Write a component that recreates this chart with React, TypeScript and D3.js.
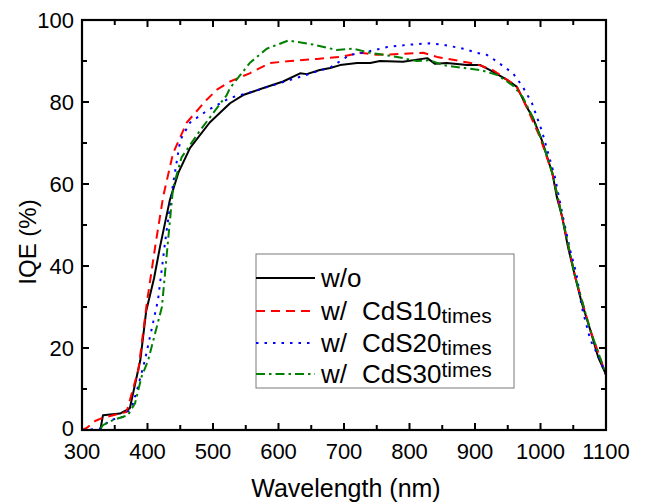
import React from "react";
import * as d3 from "d3";

// wavelength (nm) / IQE (%)
const woX = [300, 328, 332, 358, 373, 389, 398, 410, 419, 434, 447, 465, 495, 526, 546, 577, 607, 633, 643, 663, 679, 694, 720, 740, 755, 790, 827, 839, 857, 888, 908, 923, 949, 964, 979, 988, 1002, 1018, 1025, 1033, 1042, 1053, 1063, 1076, 1088, 1100];
const woY = [0, 0, 3.6, 4, 5.3, 17, 29, 37, 44.6, 56, 62.7, 68.8, 75, 79.7, 81.7, 83.4, 85, 87, 86.8, 87.8, 88.3, 89, 89.5, 89.5, 90, 89.8, 90.7, 89.3, 89.5, 89, 89, 87.8, 85.4, 83.7, 78.8, 76.3, 70.7, 62.7, 56.8, 52, 44.6, 37.3, 31, 24.4, 17.8, 13.5];

const cds10X = [300, 307, 320, 332, 368, 386, 399, 412, 424, 439, 460, 490, 506, 526, 556, 587, 618, 659, 694, 725, 750, 786, 821, 842, 877, 903, 927, 953, 964, 979, 999, 1018, 1033, 1053, 1076, 1100];
const cds10Y = [0, 0.5, 2.2, 3, 4.4, 14.6, 31, 45, 57, 67.5, 75, 80.5, 83, 85, 87, 89.5, 90, 90.5, 91, 92, 91.5, 91.7, 92, 91, 90, 89.2, 87.8, 85, 83.7, 78.7, 71.5, 62.7, 52, 37.3, 24.4, 13.5];

const cds20X = [300, 327, 343, 363, 376, 384, 396, 416, 427, 439, 450, 465, 492, 526, 560, 600, 640, 680, 709, 729, 766, 800, 831, 851, 882, 903, 918, 934, 958, 973, 987, 1002, 1022, 1033, 1045, 1055, 1063, 1076, 1086, 1100];
const cds20Y = [0, 0.3, 2.4, 3.2, 5.6, 9.7, 17, 31.7, 46, 60, 70.7, 75, 78, 81, 82.5, 84.5, 86.5, 88.5, 91.5, 92, 93.4, 94, 94.3, 94, 93, 92, 91.5, 89.8, 87, 83.7, 79.7, 73, 61.7, 53, 44, 38, 30, 22, 18.8, 13.5];

const cds30X = [300, 327, 332, 347, 370, 381, 391, 401, 422, 431, 439, 452, 480, 521, 526, 556, 582, 615, 653, 689, 714, 740, 781, 811, 831, 851, 882, 908, 934, 958, 973, 988, 1002, 1018, 1033, 1053, 1076, 1100];
const cds30Y = [0, 0, 1.2, 2.4, 3.6, 6.5, 13, 17, 30, 45.6, 59, 66.5, 73, 81.7, 83.4, 89.5, 93, 95, 94, 92.7, 93, 92, 91, 90, 90.2, 89, 88.3, 87.8, 86.6, 84, 81.2, 76.3, 70.7, 62.7, 52, 37.3, 24.4, 13.5];

const legendNums = ["", "10", "20", "30"];

const width = 648;
const height = 504;
const plot = { left: 82, right: 606, top: 20, bottom: 430 };
const font = "Arial, 'Liberation Sans', sans-serif";

export default function App() {
  const x = d3.scaleLinear().domain([300, 1100]).range([plot.left, plot.right]);
  const y = d3.scaleLinear().domain([0, 100]).range([plot.bottom, plot.top]);

  const line = d3.line<[number, number]>()
    .x(d => x(d[0]))
    .y(d => y(d[1]));

  const series = [
    { xs: woX, ys: woY, color: "#000000", dash: "none" },
    { xs: cds10X, ys: cds10Y, color: "#ff0000", dash: "9,6" },
    { xs: cds20X, ys: cds20Y, color: "#0000ff", dash: "2.5,6" },
    { xs: cds30X, ys: cds30Y, color: "#008000", dash: "9,4,2.5,4" },
  ];

  const xMajor = d3.range(300, 1101, 100);
  const xMinor = d3.range(350, 1100, 100);
  const yMajor = d3.range(0, 101, 20);
  const yMinor = d3.range(10, 100, 20);

  // legend layout
  const lg = { x0: 256, y0: 254, x1: 514, y1: 388 };
  const rowY = [278, 311, 343, 374];

  return (
    <svg width={width} height={height} style={{ position: "absolute", left: 0, top: 0, background: "#fff" }} fontFamily={font}>
      <defs>
        <clipPath id="plotclip">
          <rect x={plot.left} y={plot.top} width={plot.right - plot.left} height={plot.bottom - plot.top} />
        </clipPath>
      </defs>

      <g clipPath="url(#plotclip)">
        {series.map((s, i) => (
          <path key={i}
            d={line(s.xs.map((v, j) => [v, s.ys[j]] as [number, number])) || ""}
            fill="none" stroke={s.color} strokeWidth={2}
            strokeDasharray={s.dash} strokeLinejoin="round" />
        ))}
      </g>

      {/* ticks, inward on all four sides */}
      {xMajor.map(t => (
        <g key={"xm" + t}>
          <line x1={x(t)} x2={x(t)} y1={plot.bottom} y2={plot.bottom - 7} stroke="#000" strokeWidth={2} />
          <line x1={x(t)} x2={x(t)} y1={plot.top} y2={plot.top + 7} stroke="#000" strokeWidth={2} />
          <text x={x(t)} y={459} textAnchor="middle" fontSize={22}>{t}</text>
        </g>
      ))}
      {xMinor.map(t => (
        <g key={"xn" + t}>
          <line x1={x(t)} x2={x(t)} y1={plot.bottom} y2={plot.bottom - 5} stroke="#000" strokeWidth={2} />
          <line x1={x(t)} x2={x(t)} y1={plot.top} y2={plot.top + 5} stroke="#000" strokeWidth={2} />
        </g>
      ))}
      {yMajor.map(t => (
        <g key={"ym" + t}>
          <line x1={plot.left} x2={plot.left + 7} y1={y(t)} y2={y(t)} stroke="#000" strokeWidth={2} />
          <line x1={plot.right} x2={plot.right - 7} y1={y(t)} y2={y(t)} stroke="#000" strokeWidth={2} />
          <text x={74} y={y(t) + (t === 0 ? 6 : 8)} textAnchor="end" fontSize={22}>{t}</text>
        </g>
      ))}
      {yMinor.map(t => (
        <g key={"yn" + t}>
          <line x1={plot.left} x2={plot.left + 5} y1={y(t)} y2={y(t)} stroke="#000" strokeWidth={2} />
          <line x1={plot.right} x2={plot.right - 5} y1={y(t)} y2={y(t)} stroke="#000" strokeWidth={2} />
        </g>
      ))}

      <rect x={plot.left} y={plot.top} width={plot.right - plot.left} height={plot.bottom - plot.top}
        fill="none" stroke="#000" strokeWidth={2.2} />

      {/* legend */}
      <rect x={lg.x0} y={lg.y0} width={lg.x1 - lg.x0} height={lg.y1 - lg.y0} fill="#fff" stroke="#7a7a7a" strokeWidth={1} />
      {series.map((s, i) => (
        <g key={"lg" + i}>
          <line x1={lg.x0} x2={315} y1={rowY[i]} y2={rowY[i]} stroke={s.color} strokeWidth={2} strokeDasharray={s.dash} />
          {i === 0 ? (
            <text x={321} y={rowY[i] + 9} fontSize={26}>w/o</text>
          ) : (
            <text x={321} y={rowY[i] + 9} fontSize={26}>
              w/
              <tspan x={362}>CdS{legendNums[i]}</tspan>
              <tspan fontSize={21} dy={i === 3 ? -6 : 3}>times</tspan>
            </text>
          )}
        </g>
      ))}

      <text x={346} y={497} textAnchor="middle" fontSize={25}>Wavelength (nm)</text>
      <text transform="translate(36,242) rotate(-90)" textAnchor="middle" fontSize={24}>IQE (%)</text>
    </svg>
  );
}
